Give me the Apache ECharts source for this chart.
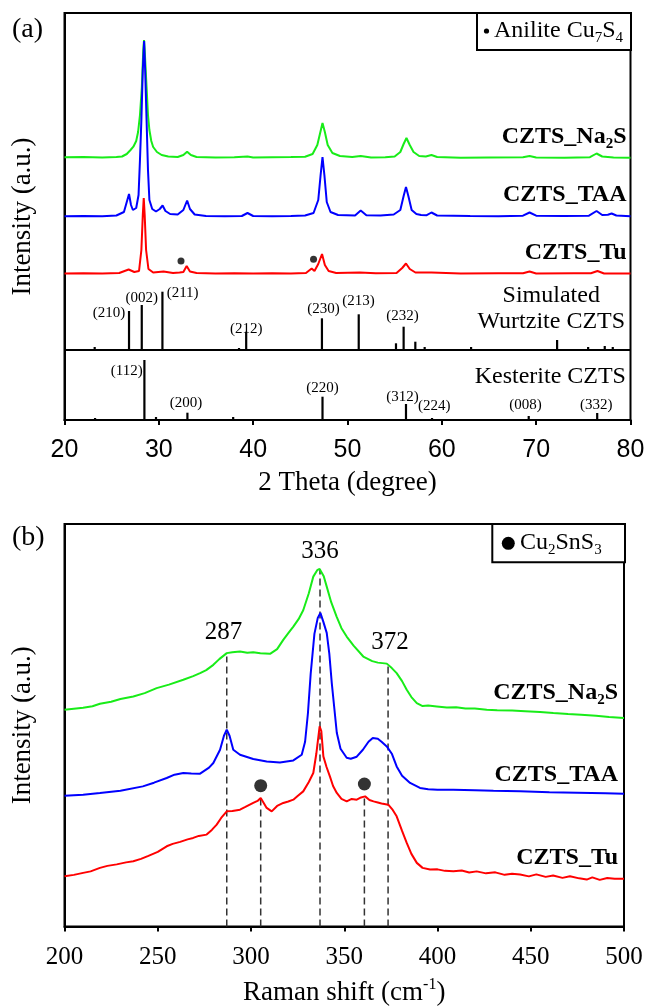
<!DOCTYPE html>
<html><head><meta charset="utf-8">
<script src="https://cdn.jsdelivr.net/npm/echarts@6/dist/echarts.min.js"></script>
<style>html,body{margin:0;padding:0;background:#fff}#c{width:648px;height:1007px}</style>
</head><body><div id="c"></div>
<script>
// ---------------- DATA ----------------
// (a) XRD profiles: [2theta, intensity above own baseline]; stacked with offsets
const xrdNa2S = [[20,0],[22,0.2],[24,-0.2],[25.5,0.3],[26.1,0.8],[26.6,3.3],[27.0,7.3],[27.3,10.6],[27.6,16.3],[27.8,25.3],[28.0,42.3],[28.2,70.3],[28.35,107.3],[28.43,117.3],[28.5,107.3],[28.7,70.3],[28.85,42.3],[29.0,27.3],[29.2,16.3],[29.4,10.3],[29.8,5.3],[30.3,2.3],[31.0,0.8],[32.0,0.3],[32.6,2.3],[33.0,5.6],[33.4,2.3],[34,0.3],[36,-0.2],[38,0],[39.4,0.8],[40,-0.2],[42,0],[44,0.2],[45.5,0.5],[46.3,3.3],[46.8,12.3],[47.1,24.3],[47.35,34.3],[47.6,25.3],[47.9,12.3],[48.4,4.3],[49.2,1.3],[50.5,0.3],[51.4,1.3],[52.5,-0.2],[54,0],[55.0,0.8],[55.6,5.3],[55.95,13.3],[56.25,19.3],[56.6,12.3],[57.0,5.3],[57.6,1.3],[58.3,0.8],[58.9,2.3],[59.5,0.3],[62,-0.5],[65,-0.2],[68.6,0],[69.3,1.3],[70,-0.2],[73,-0.5],[75.7,0.1],[76.4,3.8],[77.0,0.8],[78.2,-0.2],[80,-0.5]];
const xrdTAA = [[20,-0.3],[22,0],[24,-0.3],[25.5,0.5],[26.3,4],[26.6,14],[26.84,22],[27.05,11],[27.25,6],[27.6,8],[27.85,21],[28.0,56],[28.15,96],[28.3,146],[28.44,175],[28.55,146],[28.7,96],[28.85,46],[29.0,16],[29.3,7],[29.7,4.5],[30.1,7],[30.4,10.5],[30.7,5],[31.2,2],[32.0,1.5],[32.6,6],[33.0,15.5],[33.3,7],[33.8,1.5],[35,0],[37,-0.3],[38.8,0],[39.4,3],[40,0],[42,-0.3],[44,0],[45.5,0.5],[46.4,3],[46.9,16],[47.15,41],[47.35,59],[47.55,41],[47.8,14],[48.2,4],[49,1],[50.8,0.5],[51.4,5.5],[52,0.8],[53.5,0.5],[54.9,1.5],[55.6,6],[55.95,20],[56.2,29],[56.45,20],[56.8,6],[57.3,2],[57.8,1],[58.4,0.8],[58.9,3.5],[59.5,0.5],[63,0],[66,-0.3],[68.6,0.3],[69.3,3.5],[70,0.3],[73,0],[75.6,0.3],[76.4,5],[77,1],[77.6,1.2],[78.0,2.5],[78.5,0.5],[80,-0.3]];
const xrdTu = [[20,-0.2],[22,0],[24,-0.2],[25.8,0.3],[26.8,3.8],[27.4,1.3],[27.9,2.3],[28.15,23.3],[28.3,58.3],[28.4,75.3],[28.5,58.3],[28.65,23.3],[28.9,4.3],[29.4,0.8],[30.5,1.8],[31.5,0.3],[32.2,0.8],[32.4,2.8],[32.6,1.3],[32.95,7.3],[33.3,1.8],[34,0.3],[36,-0.2],[38,0],[40,-0.2],[42,0],[44,-0.2],[45.6,0.3],[46.2,4.8],[46.5,2.3],[46.9,9.3],[47.3,19.3],[47.6,8.3],[48.0,2.3],[48.8,0.3],[51.3,0.8],[53,0],[55.2,0.3],[55.8,5.3],[56.2,9.8],[56.6,4.3],[57.2,0.8],[58.9,0.8],[62,-0.2],[66,0],[68.6,0],[69.3,1.8],[70,-0.2],[74,0],[75.8,0],[76.5,2.3],[77.2,-0.2],[80,-0.2]];
const xrdOffsets = {Na2S: 262.7, TAA: 204, Tu: 146.7};
const aniliteDots = [[32.35,159],[46.4,160.7]];

// stick patterns [2theta, height]
const wurtziteBase = 70;
const wurtziteSticks = [[23.2,3],[26.84,39],[28.19,45],[30.38,58.3],[38.5,2],[39.26,18.3],[47.29,31.7],[51.19,35.7],[55.14,6.7],[55.95,23.3],[57.19,8.3],[58.18,3],[63.1,3],[72.22,10],[75.51,3],[77.27,4],[78.12,3]];
const kesteriteSticks = [[23.24,2],[28.47,60],[29.7,3],[33.03,7.3],[37.88,3],[47.35,23.3],[56.2,16],[58.96,2],[69.21,4],[76.47,7]];
const millerLabels = ['(210)','(002)','(211)','(212)','(230)','(213)','(232)','(112)','(200)','(220)','(312)','(224)','(008)','(332)'];
const millerPos = [[24.72,107],[28.19,122.3],[32.52,127.3],[39.26,91],[47.46,110.7],[51.17,119],[55.84,104],[26.6,49.3],[32.89,17],[47.35,31.7],[55.84,23.3],[59.2,14],[68.86,15],[76.36,15]];

// (b) Raman profiles: [shift, intensity above own baseline]
const ramanNa2S = [[200,8.3],[205,9.3],[210,10.3],[215,11.8],[219,14.3],[225,16.3],[230,19],[236.9,21.6],[243,25],[249.4,30],[256,33.5],[263.7,38.3],[269,42],[272.7,45],[276,48],[279.8,53.3],[283,59],[287,65],[290,66],[294.1,66.6],[298,65.5],[301.2,66],[305,64.8],[310.2,64.3],[314,69],[317.3,78.3],[320,85],[322.7,91.6],[325.5,99],[328,108],[331,125],[333.4,141.6],[335.5,148],[336.8,149.3],[337.8,148.5],[339,142],[340.6,131.6],[343,116],[345.9,101.6],[348.5,90],[351.3,81.6],[355,72.5],[360.2,61.6],[365,57],[368,55.5],[372.8,54.5],[375.5,50],[378.1,45],[381,37],[383.5,28.3],[386,21],[388.9,15],[392,12],[395,12.5],[399.6,11.6],[405,10.5],[410,10.8],[415,9.5],[420,9.6],[426.4,8.3],[432,7.8],[440,7.5],[447,6.8],[455,6],[462.1,5],[470,4],[477,3.3],[485,2.3],[492,1],[500,0]];
const ramanTAA = [[200,-2],[210,-1],[219,0.7],[230,3],[242,7.3],[248,11],[254.8,15.7],[259,19],[263.7,20.7],[268,20.3],[272.7,20],[277.5,26],[279.8,30.7],[283.4,44],[285.5,58],[287,64],[288.5,58],[290.5,44],[294.1,39],[301.2,34.7],[308.4,32.3],[315.5,31.3],[322.7,33.3],[327.2,39],[329,52],[330.5,80],[332,120],[334,160],[335.8,176],[337.2,181],[338.8,172],[340.6,161],[342,140],[343.3,111],[344.7,85],[346,61],[348,45],[351.3,36],[353.5,35],[356.7,37],[360,44],[363,52],[365.3,55.7],[368,55],[370,52],[372.8,47.3],[375.5,40],[378.1,27.3],[381,18],[385.3,10.7],[390.6,5.7],[395,4.5],[400,4],[408.5,4],[420,3.5],[430,3],[444.3,2.3],[460,1.5],[475,1],[490,0.5],[500,0]];
const ramanTu = [[200,2.6],[205,4],[210,6],[214,7.5],[219,11],[223,13],[228,14.5],[233,16.5],[236.9,17.6],[241,20],[245,23],[250,27],[254.8,32.6],[258,35],[262,37],[266,39.5],[269,41],[272,43],[276.2,44.3],[279,49],[281.6,54.3],[284,61],[287,67.6],[290,68],[294.1,69.3],[297,72],[301.2,76],[303.5,78],[305.2,81],[306.5,77],[308.4,71],[311.1,67.6],[314,73],[317.3,76],[320,77.5],[322.7,79.3],[325,83],[328,87.6],[331,97],[333.4,106],[335,125],[336.8,152.6],[337.7,148],[338.8,122.6],[340.5,112],[342.3,102.6],[344,93],[346,86],[348.5,80],[351.3,77.6],[354,80],[356.7,79.3],[359,81.5],[361.2,82.6],[363.5,79],[365.7,77.6],[368,76.5],[370,75.5],[373.6,74.3],[376,69],[378.1,62.6],[381,48],[383.5,36],[386,25],[388.9,16],[392,11],[396,9.3],[400,9.5],[404,8],[408.5,7.6],[413,8.3],[417,6.3],[421,7.5],[426,5.5],[431,6.5],[436,4],[440,5],[444.3,4.3],[449,2.5],[453,4.5],[458,2],[462,3.3],[467,1],[471,2.6],[476,0.5],[480,-0.7],[483,1.5],[487,-1],[491,0.8],[495,0],[500,0]];
const ramanOffsets = {Na2S: 208.7, TAA: 133, Tu: 47.7};
const ramanPeakLines = [[287,270.3],[337,358],[373.5,260.3]];
const ramanPeakLabels = ['287','336','372'];
const ramanPeakLabelPos = [[285.2,294],[337,375.3],[374.5,284]];
const cu2snsLines = [[305.2,128.7],[360.8,130]];
const cu2snsDots = [[305.2,141],[360.8,142.7]];

const xrdTicks = [20,30,40,50,60,70,80];
const ramanTicks = [200,250,300,350,400,450,500];

// ---------------- CHART ----------------
const SERIF = "'Times New Roman','Liberation Serif',serif";
const SANS = "Arial,'Liberation Sans',sans-serif";
const GREEN = '#18ec18', BLUE = '#0000ff', RED = '#ff0000';
const stack = (p, o) => p.map(d => [d[0], d[1] + o]);

const richTxt = {
  b: {fontFamily: SERIF, fontWeight: 'bold', fontSize: 24, lineHeight: 30, color: '#000'},
  bs: {fontFamily: SERIF, fontWeight: 'bold', fontSize: 15, lineHeight: 15, verticalAlign: 'bottom', color: '#000'},
  n: {fontFamily: SERIF, fontSize: 24, lineHeight: 30, color: '#000'},
  ns: {fontFamily: SERIF, fontSize: 15, lineHeight: 15, verticalAlign: 'bottom', color: '#000'},
  nsup: {fontFamily: SERIF, fontSize: 15, lineHeight: 15, verticalAlign: 'top', color: '#000'},
  m: {fontFamily: SERIF, fontSize: 15, lineHeight: 18, color: '#000'},
  r: {fontFamily: SERIF, fontSize: 25, lineHeight: 30, color: '#000'}
};

function textSeries(xi, points, texts, align) {
  return {
    type: 'custom', xAxisIndex: xi, yAxisIndex: xi, silent: true, clip: false, z: 10,
    data: points,
    renderItem: function (params, api) {
      const p = api.coord([api.value(0), api.value(1)]);
      const t = texts[params.dataIndex];
      const al = Array.isArray(align) ? align[params.dataIndex] : align;
      return {type: 'text', x: p[0], y: p[1],
        style: {text: t, rich: richTxt, align: al, verticalAlign: 'middle', textAlign: al, textVerticalAlign: 'middle', fill: '#000'}};
    }
  };
}
function stickSeries(xi, data, color, width, dash) {
  return {
    type: 'custom', xAxisIndex: xi, yAxisIndex: xi, silent: true, z: 3,
    data: data,
    renderItem: function (params, api) {
      const a = api.coord([api.value(0), api.value(1)]);
      const b = api.coord([api.value(0), api.value(2)]);
      return {type: 'line', shape: {x1: a[0], y1: a[1], x2: b[0], y2: b[1]},
        style: {stroke: color, lineWidth: width, lineDash: dash || null}};
    }
  };
}
function lineSeries(xi, data, color) {
  return {type: 'line', xAxisIndex: xi, yAxisIndex: xi, data: data, showSymbol: false, symbol: 'none',
    lineStyle: {color: color, width: 2}, silent: true, z: 5, animation: false};
}

const chart = echarts.init(document.getElementById('c'), null, {renderer: 'canvas'});
const axisLine = {show: true, onZero: false, lineStyle: {color: '#000', width: 2}};
chart.setOption({
  animation: false,
  backgroundColor: '#fff',
  grid: [
    {left: 64.5, top: 13, width: 566, height: 407, show: true, borderColor: '#000', borderWidth: 2},
    {left: 64.5, top: 524, width: 559.5, height: 403, show: true, borderColor: '#000', borderWidth: 2}
  ],
  xAxis: [
    {type: 'value', gridIndex: 0, min: 20, max: 80, interval: 10, axisLine: axisLine,
     axisTick: {show: true, inside: false, length: 5, lineStyle: {color: '#000', width: 2}},
     axisLabel: {color: '#000', fontFamily: SANS, fontSize: 25, margin: 18, customValues: xrdTicks},
     splitLine: {show: false},
     name: '2 Theta (degree)', nameLocation: 'middle', nameGap: 49,
     nameTextStyle: {fontFamily: SERIF, fontSize: 27, color: '#000'}},
    {type: 'value', gridIndex: 1, min: 200, max: 500, interval: 50, axisLine: axisLine,
     axisTick: {show: true, inside: false, length: 5, lineStyle: {color: '#000', width: 2}},
     axisLabel: {color: '#000', fontFamily: SERIF, fontSize: 25, margin: 18},
     splitLine: {show: false},
     name: '{n|Raman shift (cm}{s|-1}{n|)}', nameLocation: 'middle', nameGap: 50,
     nameTextStyle: {rich: {
       n: {fontFamily: SERIF, fontSize: 27, lineHeight: 32, color: '#000'},
       s: {fontFamily: SERIF, fontSize: 16, lineHeight: 16, verticalAlign: 'top', color: '#000'}}}}
  ],
  yAxis: [
    {type: 'value', gridIndex: 0, min: 0, max: 407, axisLine: axisLine, axisTick: {show: false},
     axisLabel: {show: false}, splitLine: {show: false},
     name: 'Intensity (a.u.)', nameLocation: 'middle', nameGap: 28,
     nameTextStyle: {fontFamily: SERIF, fontSize: 27, color: '#000'}},
    {type: 'value', gridIndex: 1, min: 0, max: 403, axisLine: axisLine, axisTick: {show: false},
     axisLabel: {show: false}, splitLine: {show: false},
     name: 'Intensity (a.u.)', nameLocation: 'middle', nameGap: 28,
     nameTextStyle: {fontFamily: SERIF, fontSize: 27, color: '#000'}}
  ],
  series: [
    // (a) stick patterns
    Object.assign(stickSeries(0, wurtziteSticks.map(s => [s[0], wurtziteBase, wurtziteBase + s[1]]), '#000', 2.2), {
      markLine: {silent: true, symbol: 'none', label: {show: false}, animation: false,
        lineStyle: {color: '#000', width: 2, type: 'solid'}, data: [{yAxis: wurtziteBase}]}}),
    stickSeries(0, kesteriteSticks.map(s => [s[0], 0, s[1]]), '#000', 2.2),
    // (a) curves
    lineSeries(0, stack(xrdNa2S, xrdOffsets.Na2S), GREEN),
    lineSeries(0, stack(xrdTAA, xrdOffsets.TAA), BLUE),
    lineSeries(0, stack(xrdTu, xrdOffsets.Tu), RED),
    {type: 'scatter', xAxisIndex: 0, yAxisIndex: 0, data: aniliteDots, symbol: 'circle', symbolSize: 7,
     itemStyle: {color: '#000'}, silent: true, z: 8},
    textSeries(0, millerPos, millerLabels.map(t => '{m|' + t + '}'), 'center'),
    textSeries(0, [[79.58, 283], [79.58, 225], [79.58, 167]],
      ['{b|CZTS_Na}{bs|2}{b|S}', '{b|CZTS_TAA}', '{b|CZTS_Tu}'], 'right'),
    textSeries(0, [[71.6, 124.3], [71.6, 98.3], [71.5, 43.3]],
      ['{n|Simulated}', '{n|Wurtzite CZTS}', '{n|Kesterite CZTS}'], 'center'),
    // (b) dashed lines
    stickSeries(1, ramanPeakLines.map(s => [s[0], 0, s[1]]), '#333', 1.5, [7, 4]),
    stickSeries(1, cu2snsLines.map(s => [s[0], 0, s[1]]), '#333', 1.5, [7, 4]),
    // (b) curves
    lineSeries(1, stack(ramanNa2S, ramanOffsets.Na2S), GREEN),
    lineSeries(1, stack(ramanTAA, ramanOffsets.TAA), BLUE),
    lineSeries(1, stack(ramanTu, ramanOffsets.Tu), RED),
    {type: 'scatter', xAxisIndex: 1, yAxisIndex: 1, data: cu2snsDots, symbol: 'circle', symbolSize: 13,
     itemStyle: {color: '#000'}, silent: true, z: 8},
    textSeries(1, ramanPeakLabelPos, ramanPeakLabels.map(t => '{r|' + t + '}'), 'center'),
    textSeries(1, [[496.8, 233.7], [496.8, 152], [496.8, 68.7]],
      ['{b|CZTS_Na}{bs|2}{b|S}', '{b|CZTS_TAA}', '{b|CZTS_Tu}'], 'right')
  ],
  graphic: [
    {type: 'text', left: 12, top: 16, style: {text: '(a)', font: '28px ' + SERIF, fill: '#000'}},
    {type: 'text', left: 12, top: 524, style: {text: '(b)', font: '28px ' + SERIF, fill: '#000'}},
    // legend (a)
    {type: 'rect', shape: {x: 477, y: 13, width: 154, height: 37}, style: {fill: '#fff', stroke: '#000', lineWidth: 2}, z: 20},
    {type: 'circle', shape: {cx: 486.5, cy: 31, r: 2.6}, style: {fill: '#000'}, z: 21},
    {type: 'text', x: 494, y: 31, z: 21, style: {text: '{n|Anilite Cu}{ns|7}{n|S}{ns|4}', rich: richTxt, verticalAlign: 'middle', align: 'left'}},
    // legend (b)
    {type: 'rect', shape: {x: 492.3, y: 524, width: 132.7, height: 38.3}, style: {fill: '#fff', stroke: '#000', lineWidth: 2}, z: 20},
    {type: 'circle', shape: {cx: 508.3, cy: 543.3, r: 6.5}, style: {fill: '#000'}, z: 21},
    {type: 'text', x: 520, y: 543, z: 21, style: {text: '{n|Cu}{ns|2}{n|SnS}{ns|3}', rich: richTxt, verticalAlign: 'middle', align: 'left'}}
  ]
});
</script></body></html>
